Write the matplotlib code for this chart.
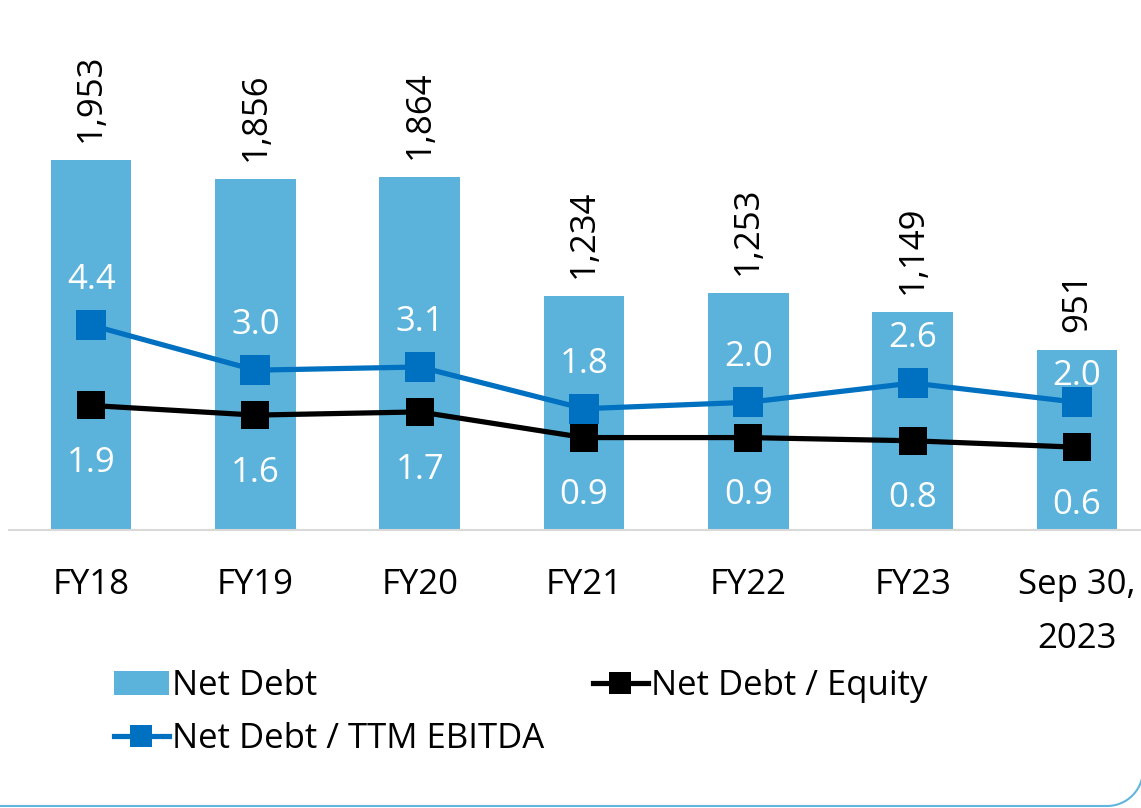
import matplotlib
matplotlib.use("Agg")
import numpy as np
import matplotlib.pyplot as plt
from matplotlib.patches import Patch
from matplotlib.lines import Line2D
from matplotlib.transforms import IdentityTransform

plt.rcParams['font.family'] = ['Open Sans', 'DejaVu Sans']

# data
periods = ["FY18", "FY19", "FY20", "FY21", "FY22", "FY23", "Sep 30,\n2023"]
net_debt = [1953, 1856, 1864, 1234, 1253, 1149, 951]
debt_to_ebitda = [4.4, 3.0, 3.1, 1.8, 2.0, 2.6, 2.0]
debt_to_equity = [1.9, 1.6, 1.7, 0.9, 0.9, 0.8, 0.6]

# label offsets (points) for the EBITDA labels, last one sits lower
ebitda_label_dy = [26, 26, 26, 26, 26, 26, 12.6]

BAR = '#5BB3DC'
BLUE = '#0070C0'
FS = 25

W, H = 1141, 808
fig = plt.figure(figsize=(W / 100, H / 100), dpi=100)
ax = fig.add_axes([9 / W, 278 / H, 1132 / W, 500 / H])

x = list(range(len(periods)))
ax.bar(x, net_debt, width=0.49, color=BAR, zorder=1)
ax.set_xlim(-0.5, 6.39)
ax.set_ylim(0, 2641)
for s in ['top', 'left', 'right']:
    ax.spines[s].set_visible(False)
ax.spines['bottom'].set_color('#D9D9D9')
ax.spines['bottom'].set_linewidth(1.5)
ax.set_yticks([])
ax.set_xticks(x)
ax.set_xticklabels(periods, fontsize=FS, linespacing=1.75)
ax.tick_params(axis='x', length=0, pad=27.5)

for i, v in enumerate(net_debt):
    ax.annotate(f'{v:,}', (i, v), xytext=(0, 13), textcoords='offset points',
                rotation=90, ha='center', va='bottom', fontsize=FS)

# ratios on a hidden second axis
ax2 = ax.twinx()
ax2.set_ylim(-1.98, 13.6)
ax2.axis('off')
ax2.plot(x, debt_to_equity, color='black', lw=3.75, marker='s', ms=20.4, mew=0, zorder=3)
ax2.plot(x, debt_to_ebitda, color=BLUE, lw=3.75, marker='s', ms=22, mew=0, zorder=3)

for i, v in enumerate(debt_to_ebitda):
    ax2.annotate(f'{v:.1f}', (i, v), xytext=(0, ebitda_label_dy[i]), textcoords='offset points',
                 ha='center', va='baseline', fontsize=FS, color='white')
for i, v in enumerate(debt_to_equity):
    ax2.annotate(f'{v:.1f}', (i, v), xytext=(0, -48), textcoords='offset points',
                 ha='center', va='baseline', fontsize=FS, color='white')

# legend
h_bar = Patch(facecolor=BAR, label='Net Debt')
h_ebitda = Line2D([], [], color=BLUE, lw=3.75, marker='s', ms=22, mew=0, label='Net Debt / TTM EBITDA')
h_equity = Line2D([], [], color='black', lw=3.75, marker='s', ms=20.4, mew=0, label='Net Debt / Equity')
leg_kw = dict(loc='upper left', frameon=False, fontsize=FS, handlelength=1.58,
              handletextpad=0.1, borderpad=0, borderaxespad=0, labelspacing=0.54,
              markerscale=0.75)
fig.legend(handles=[h_bar, h_ebitda], bbox_to_anchor=(114 / W, 1 - 669 / H), **leg_kw)
fig.legend(handles=[h_equity], bbox_to_anchor=(593 / W, 1 - 669 / H), **leg_kw)

# rounded frame corner at the bottom right (pixel coords)
r = 36
right, bottom = W + 2, 2
t = np.linspace(-np.pi / 2, 0, 40)
fx = np.concatenate([[0], right - r + r * np.cos(t), [right]])
fy = np.concatenate([[bottom], bottom + r + r * np.sin(t), [H]])
fig.add_artist(Line2D(fx, fy, transform=IdentityTransform(), color='#62B5DE', lw=1.5))

fig.savefig('out.png', dpi=100)
